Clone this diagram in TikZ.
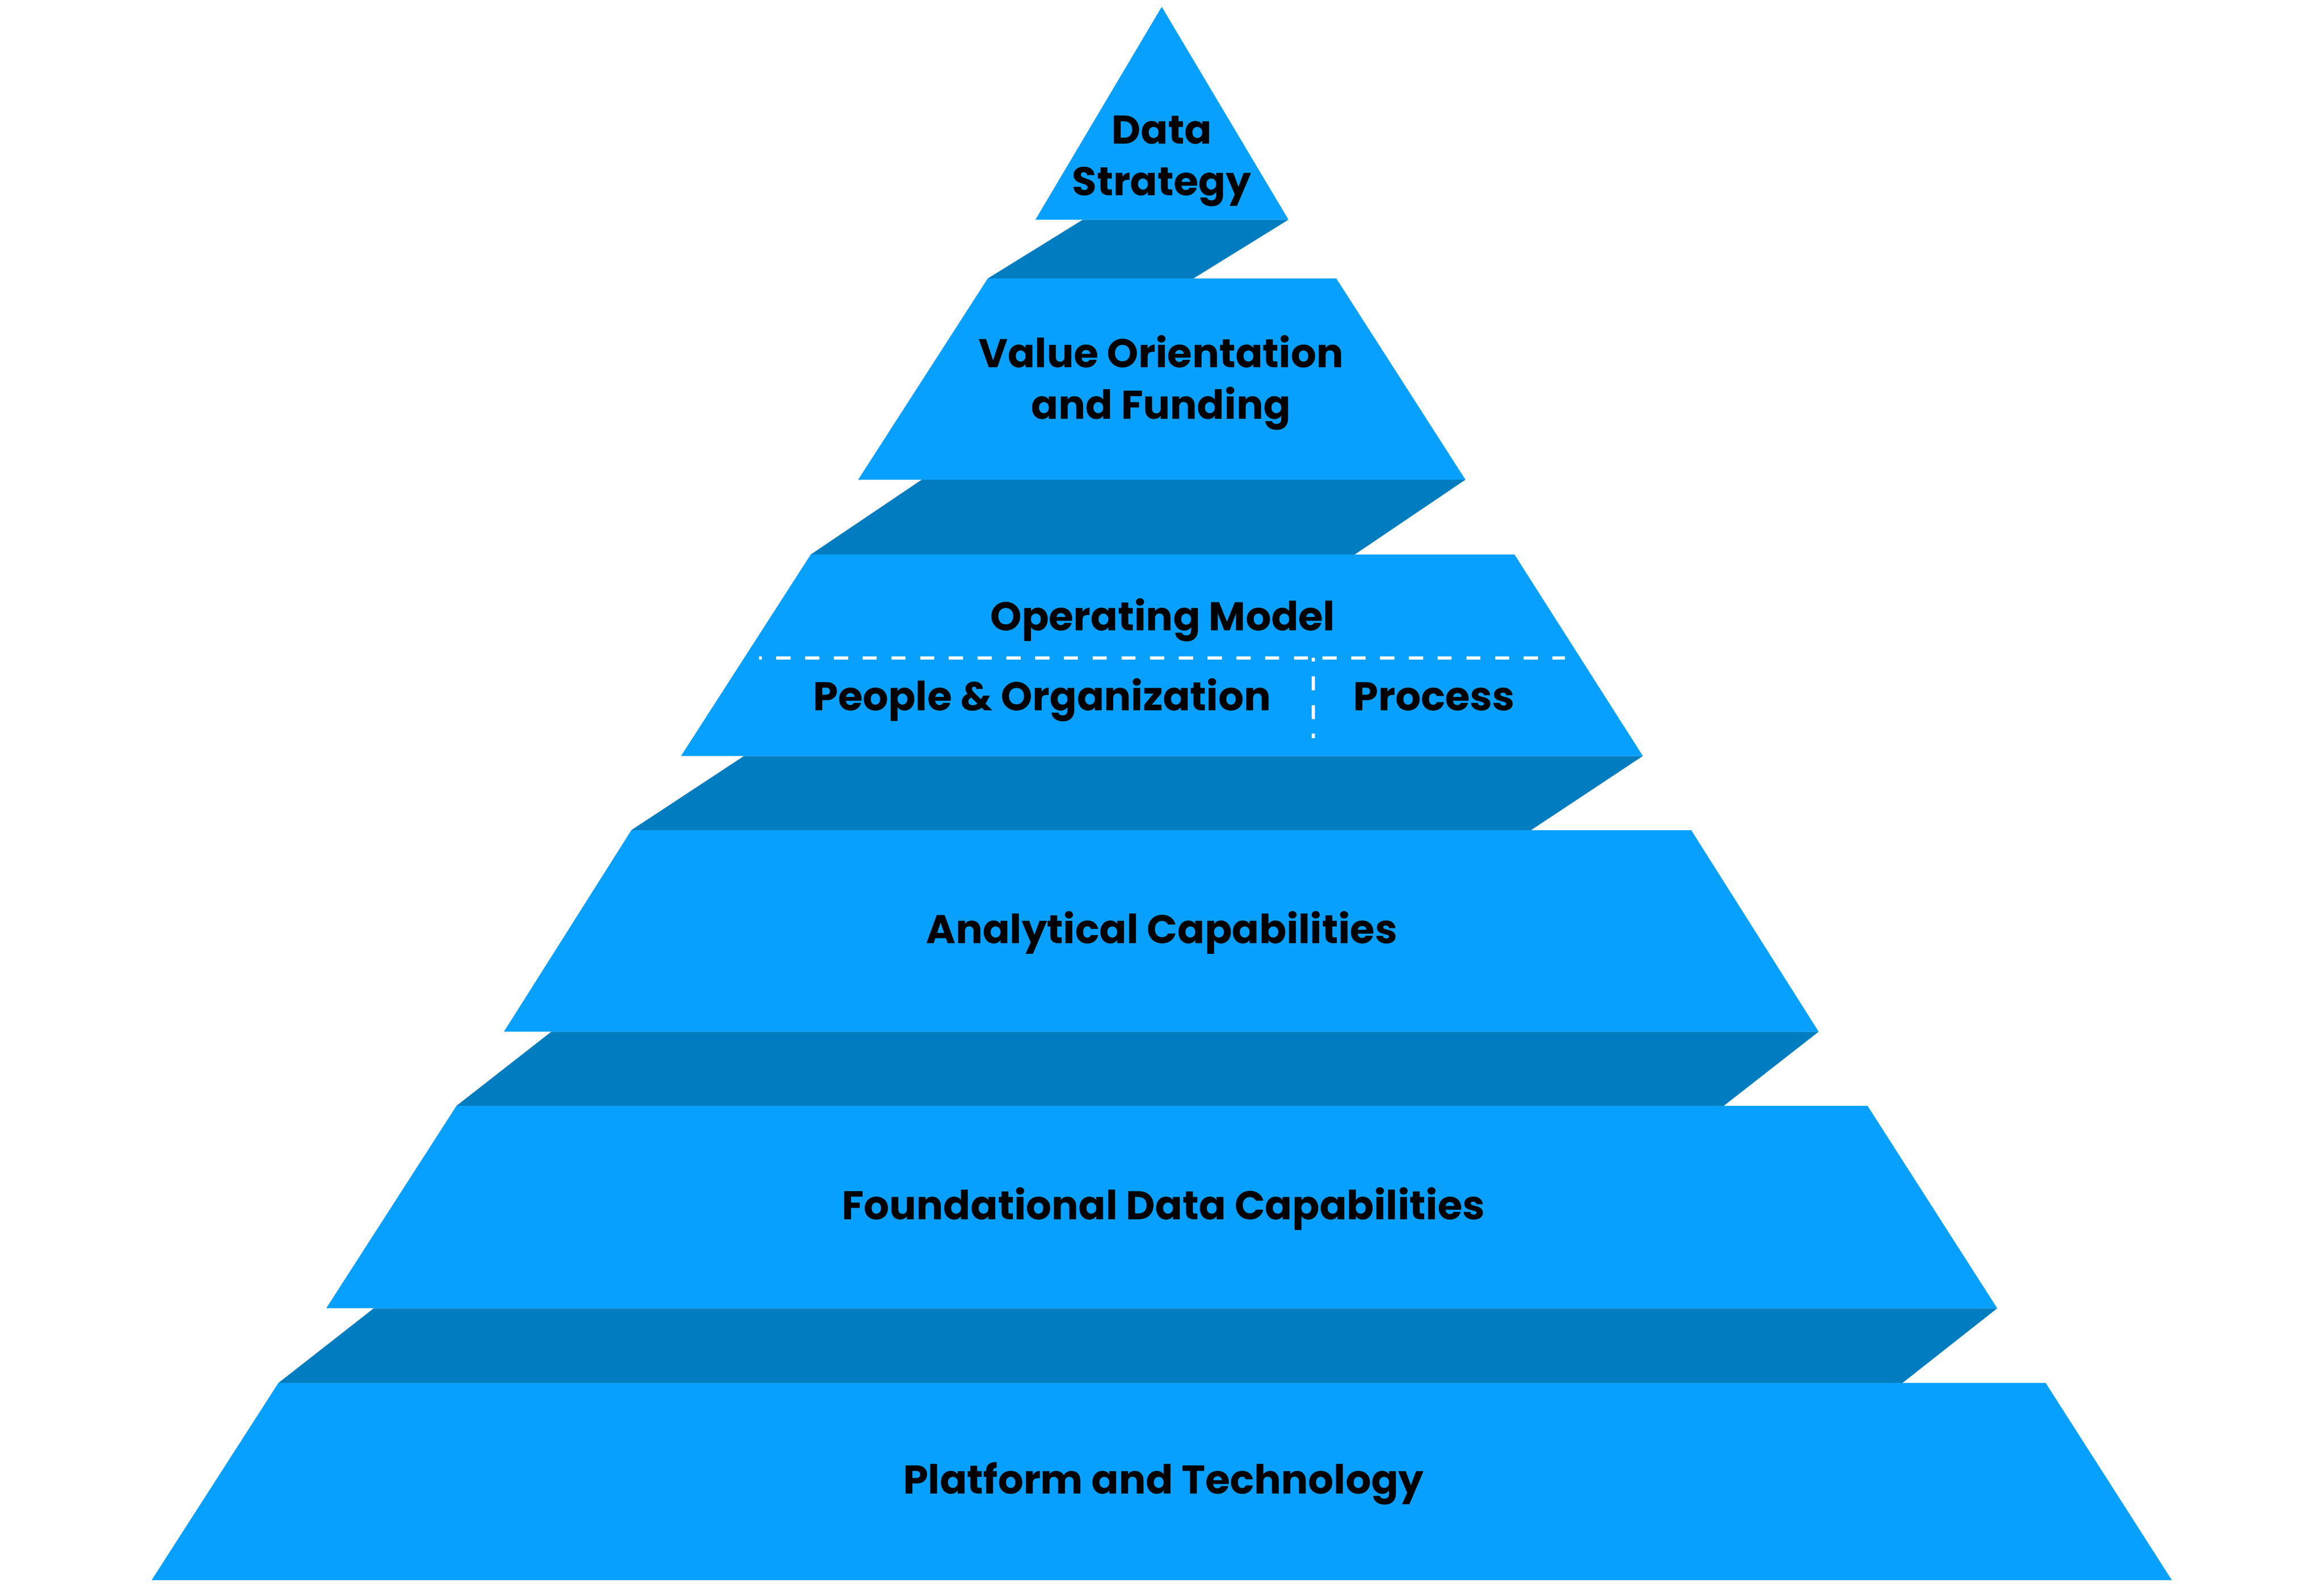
\documentclass[tikz,border=0pt]{standalone}
\usepackage{fontspec}
\setmainfont{Poppins}
\definecolor{tierblue}{HTML}{08A0FF}
\definecolor{ledgeblue}{HTML}{007DC0}
\tikzset{
  tier/.style={fill=tierblue},
  ledge/.style={fill=ledgeblue},
  lbl/.style={font=\fontsize{15.4}{19.9}\selectfont\bfseries, align=center, anchor=base, inner sep=0pt},
  sep/.style={draw=white, line width=0.044cm, dash pattern=on 0.192cm off 0.196cm},
}

\begin{document}
\begin{tikzpicture}[x=0.02cm,y=-0.02cm]
  \useasboundingbox (0,0) rectangle (1568,1070.5);
  % ledges between the tiers
  \fill[ledge] (730.6,148.2) -- (869.3,148.2) -- (805.1,187.9) -- (666.4,187.9) -- cycle;
  \fill[ledge] (621.9,323.6) -- (988.7,323.6) -- (914,374.1) -- (547,374.1) -- cycle;
  \fill[ledge] (502,510) -- (1108.4,510) -- (1033,560) -- (426,560) -- cycle;
  \fill[ledge] (372,696) -- (1227,696) -- (1163,746) -- (308,746) -- cycle;
  \fill[ledge] (252.2,882.6) -- (1347.5,882.6) -- (1283.5,933) -- (187.8,933) -- cycle;
  % tiers
  \fill[tier] (783.8,4.6) -- (869.3,148.2) -- (698.6,148.2) -- cycle;
  \fill[tier] (666.4,187.9) -- (901.6,187.9) -- (988.7,323.6) -- (579,323.6) -- cycle;
  \fill[tier] (547,374.1) -- (1021.8,374.1) -- (1108.4,510) -- (459.5,510) -- cycle;
  \fill[tier] (426,560) -- (1141,560) -- (1227,696) -- (340,696) -- cycle;
  \fill[tier] (308,746) -- (1260,746) -- (1347.5,882.6) -- (220.1,882.6) -- cycle;
  \fill[tier] (187.8,933) -- (1380.2,933) -- (1465.3,1066) -- (102.3,1066) -- cycle;
  % operating model split
  \coordinate (opl) at (512,443.8);
  \coordinate (opr) at (1055.9,443.8);
  \coordinate (optop) at (886.1,443.8);
  \coordinate (opbot) at (886.1,498);
  \draw[sep, dash phase=0.152cm] (opl) -- (opr);
  \draw[sep, dash phase=0.14cm] (optop) -- (opbot);
  % labels (two-line labels sit on their last baseline)
  \node[lbl] (data) at (783.8,131.9) {Data\\Strategy};
  \node[lbl] (value) at (783.3,282.7) {Value Orientation\\and Funding};
  \node[lbl] (opmodel) at (784.4,425.4) {Operating Model};
  \node[lbl] (people) at (703,479.3) {People \& Organization};
  \node[lbl] (process) at (967.5,479.3) {Process};
  \node[lbl] (analytic) at (783.8,636.4) {Analytical Capabilities};
  \node[lbl] (found) at (784.9,822.6) {Foundational Data Capabilities};
  \node[lbl] (platform) at (785,1007.6) {Platform and Technology};
\end{tikzpicture}
\end{document}
